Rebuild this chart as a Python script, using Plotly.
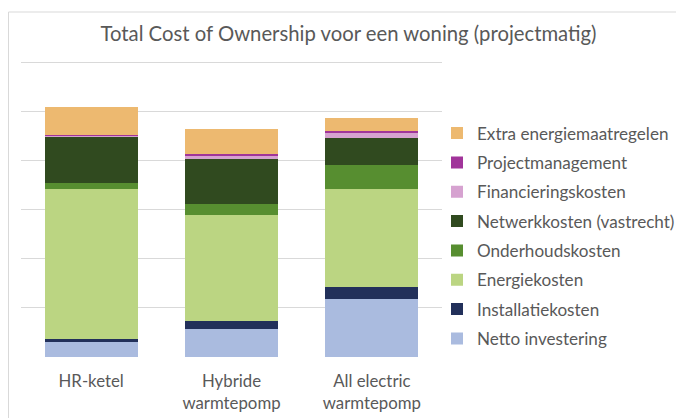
import plotly.graph_objects as go

categories = ["HR-ketel", "Hybride<br>warmtepomp", "All electric<br>warmtepomp"]

series_names = [
    "Netto investering",
    "Installatiekosten",
    "Energiekosten",
    "Onderhoudskosten",
    "Netwerkkosten (vastrecht)",
    "Financieringskosten",
    "Projectmanagement",
    "Extra energiemaatregelen",
]

netto_investering = [3.1, 5.63, 11.86]
installatiekosten = [0.55, 1.69, 2.44]
energiekosten = [30.6, 21.56, 19.93]
onderhoudskosten = [1.1, 2.24, 4.76]
netwerkkosten = [9.3, 9.21, 5.55]
financieringskosten = [0.45, 0.7, 1.1]
projectmanagement = [0.1, 0.2, 0.3]
extra_energiemaatregelen = [5.75, 5.1, 2.65]

series_values = [
    netto_investering,
    installatiekosten,
    energiekosten,
    onderhoudskosten,
    netwerkkosten,
    financieringskosten,
    projectmanagement,
    extra_energiemaatregelen,
]

colors = [
    "#AABBDF",
    "#22305A",
    "#BBD582",
    "#578E30",
    "#304A1F",
    "#D6A2D0",
    "#A1349A",
    "#EDB970",
]

y_tickvals = [0, 10, 20, 30, 40, 50, 60]

# page body has an 8px default margin, so the figure is 8px smaller
W, H = 676, 410
ML, MR, MT, MB = 13, 242, 52, 61

fig = go.Figure()
n = len(series_names)
for i, (name, vals, col) in enumerate(zip(series_names, series_values, colors)):
    fig.add_trace(go.Bar(
        x=categories, y=vals, name=name,
        marker=dict(color=col, line=dict(width=0)),
        legendgroup="g%d" % i,
        legendrank=100 + (n - i),
    ))

plot_w = W - ML - MR
plot_h = H - MT - MB
px_per_unit = 295 / 60.0
y_top = 60 + 2 / px_per_unit

fig.update_layout(
    width=W, height=H,
    margin=dict(l=ML, r=MR, t=MT, b=MB, pad=0, autoexpand=False),
    barmode="stack",
    bargap=0.337,
    paper_bgcolor="white",
    plot_bgcolor="white",
    font=dict(family="Lato", color="#595959"),
    title=dict(
        text="Total Cost of Ownership voor een woning (projectmatig)",
        x=340.5 / W, xanchor="center",
        y=1 - 26 / H, yanchor="middle",
        font=dict(family="Lato", size=20.3, color="#595959"),
    ),
    legend=dict(
        traceorder="grouped",
        tracegroupgap=4.1,
        x=(429 - ML) / plot_w, xanchor="left",
        y=1 - (107.5 - MT) / plot_h, yanchor="top",
        font=dict(family="Lato", size=17.1, color="#595959"),
        bgcolor="rgba(0,0,0,0)",
        borderwidth=0,
    ),
    xaxis=dict(
        showgrid=False, showline=False, zeroline=False,
        ticks="", tickfont=dict(family="Lato", size=16.8, color="#595959"),
        ticklabelstandoff=12,
    ),
    yaxis=dict(
        range=[0, y_top],
        tickvals=y_tickvals,
        showticklabels=False,
        showgrid=True, gridcolor="#D9D9D9", gridwidth=1,
        zeroline=False, showline=False, ticks="",
    ),
    shapes=[dict(
        type="rect", xref="paper", yref="paper",
        x0=(0.5 - ML) / plot_w, x1=2.0,
        y0=-1.0, y1=(H - MB - 4) / plot_h,
        line=dict(color="#D9D9D9", width=1),
        fillcolor="rgba(0,0,0,0)", layer="below",
    )],
)

fig.write_html("out.html")
